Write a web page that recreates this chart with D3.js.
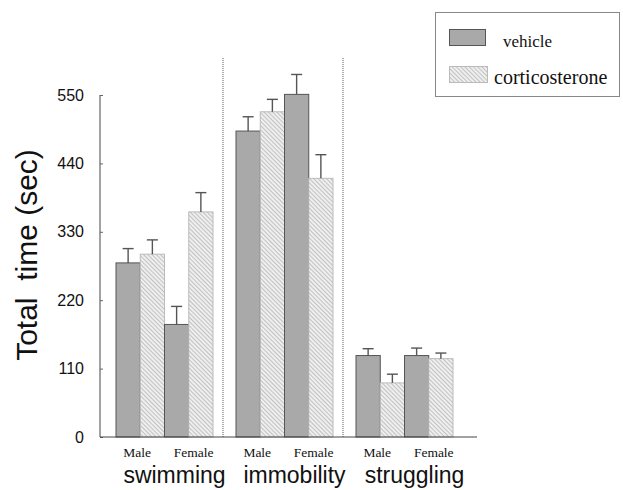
<!DOCTYPE html>
<html>
<head>
<meta charset="utf-8">
<script src="https://cdn.jsdelivr.net/npm/d3@7"></script>
<style>
  body { margin: 0; background: #fff; }
  svg { display: block; }
</style>
</head>
<body>
<svg id="chart" width="623" height="490"></svg>
<script>
// data
const behaviours = ["swimming", "immobility", "struggling"];
const sexes = ["Male", "Female"];
const treatments = ["vehicle", "corticosterone"];

// order: swimming M, swimming F, immobility M, immobility F, struggling M, struggling F
const vehicleMean = [280, 181, 492, 551, 131, 131];
const vehicleErr  = [23, 29, 23, 32, 11, 12];
const cortMean    = [294, 362, 523, 416, 87, 126];
const cortErr     = [23, 31, 20, 38, 14, 9];

const yTicks = [0, 110, 220, 330, 440, 550];

const svg = d3.select("#chart");

// hatch for corticosterone
const defs = svg.append("defs");
const pat = defs.append("pattern")
    .attr("id", "hatch")
    .attr("patternUnits", "userSpaceOnUse")
    .attr("width", 6)
    .attr("height", 3)
    .attr("patternTransform", "rotate(45)");
pat.append("rect").attr("width", 6).attr("height", 3).attr("fill", "#f0f0f0");
pat.append("line")
    .attr("x1", 0).attr("x2", 6).attr("y1", 0.5).attr("y2", 0.5)
    .attr("stroke", "#c2c2c2").attr("stroke-width", 1.1);

let y = d3.scaleLinear().domain([0, 550]).range([437, 95]);

let x = d3.scaleBand()
    .domain(behaviours)
    .range([104.5, 464.5])
    .paddingInner(0.1917)
    .paddingOuter(0.0958);

let xSex = d3.scaleBand().domain(sexes).range([0, x.bandwidth()]);
let xTrt = d3.scaleBand().domain(treatments).range([0, xSex.bandwidth()]);

// flatten into bar records
let bars = [];
behaviours.forEach((b, bi) => {
    sexes.forEach((s, si) => {
        let k = bi * 2 + si;
        bars.push({ b, s, t: "vehicle", v: vehicleMean[k], e: vehicleErr[k] });
        bars.push({ b, s, t: "corticosterone", v: cortMean[k], e: cortErr[k] });
    });
});
let barX = d => x(d.b) + xSex(d.s) + xTrt(d.t);

// dotted dividers between behaviours
behaviours.slice(1).forEach(b => {
    let dx = x(b) - x.step() * x.paddingInner() / 2 - 1.5;
    svg.append("line")
        .attr("x1", dx).attr("x2", dx)
        .attr("y1", 58).attr("y2", 438)
        .attr("stroke", "#777")
        .attr("stroke-width", 1.2)
        .attr("stroke-dasharray", "1,1");
});

// bars
svg.append("g").selectAll("rect")
    .data(bars)
    .join("rect")
    .attr("x", barX)
    .attr("y", d => y(d.v))
    .attr("width", xTrt.bandwidth())
    .attr("height", d => y(0) - y(d.v))
    .attr("fill", d => d.t == "vehicle" ? "#a9a9a9" : "url(#hatch)")
    .attr("stroke", d => d.t == "vehicle" ? "#555" : "#bbb")
    .attr("stroke-width", 1);

// error bars (upper only)
let eb = svg.append("g").attr("stroke", "#555").attr("stroke-width", 1.4);
bars.forEach(d => {
    let cx = barX(d) + xTrt.bandwidth() / 2;
    eb.append("line")
        .attr("x1", cx).attr("x2", cx)
        .attr("y1", y(d.v)).attr("y2", y(d.v + d.e));
    eb.append("line")
        .attr("x1", cx - 5.5).attr("x2", cx + 5.5)
        .attr("y1", y(d.v + d.e)).attr("y2", y(d.v + d.e));
});

// y axis
let yAxis = svg.append("g")
    .attr("transform", "translate(100,0)")
    .call(d3.axisLeft(y).tickValues(yTicks).tickSize(-3).tickPadding(16));
yAxis.select(".domain").attr("stroke", "#444").attr("d", "M0," + y(550) + "V" + y(0));
yAxis.selectAll(".tick line").attr("stroke", "#666");
yAxis.selectAll("text")
    .attr("font-family", "Liberation Sans, Arial, sans-serif")
    .attr("font-size", 16)
    .attr("fill", "#111");

// baseline
svg.append("line")
    .attr("x1", 100).attr("x2", 477)
    .attr("y1", y(0)).attr("y2", y(0))
    .attr("stroke", "#444").attr("stroke-width", 1);

// sex labels
behaviours.forEach(b => {
    sexes.forEach(s => {
        svg.append("text")
            .attr("x", x(b) + xSex(s) + xSex.bandwidth() / 2 + (s == "Male" ? -3 : 5))
            .attr("y", 457)
            .attr("text-anchor", "middle")
            .attr("font-family", "Liberation Serif, Times New Roman, serif")
            .attr("font-size", 13.5)
            .attr("fill", "#111")
            .text(s);
    });
    svg.append("text")
        .attr("x", x(b) + x.bandwidth() / 2 + 10)
        .attr("y", 483)
        .attr("text-anchor", "middle")
        .attr("font-family", "Liberation Sans, Arial, sans-serif")
        .attr("font-size", 23)
        .attr("fill", "#111")
        .text(b);
});

// y title
svg.append("text")
    .attr("transform", "translate(37,255) rotate(-90)")
    .attr("text-anchor", "middle")
    .attr("font-family", "Liberation Sans, Arial, sans-serif")
    .attr("font-size", 30)
    .attr("fill", "#111")
    .style("white-space", "pre")
    .text("Total  time (sec)");

// legend
let lg = svg.append("g");
lg.append("rect")
    .attr("x", 435.5).attr("y", 12.5)
    .attr("width", 184).attr("height", 84)
    .attr("fill", "#fff").attr("stroke", "#888");
lg.append("rect")
    .attr("x", 449.5).attr("y", 29.5).attr("width", 36).attr("height", 16)
    .attr("fill", "#a9a9a9").attr("stroke", "#555");
lg.append("rect")
    .attr("x", 449.5).attr("y", 66.5).attr("width", 38).attr("height", 16)
    .attr("fill", "url(#hatch)").attr("stroke", "#bbb");
lg.append("text")
    .attr("x", 503).attr("y", 47)
    .attr("font-family", "Liberation Serif, Times New Roman, serif")
    .attr("font-size", 17)
    .attr("fill", "#111")
    .text(treatments[0]);
lg.append("text")
    .attr("x", 494).attr("y", 84)
    .attr("font-family", "Liberation Serif, Times New Roman, serif")
    .attr("font-size", 20)
    .attr("fill", "#111")
    .text(treatments[1]);
</script>
</body>
</html>
